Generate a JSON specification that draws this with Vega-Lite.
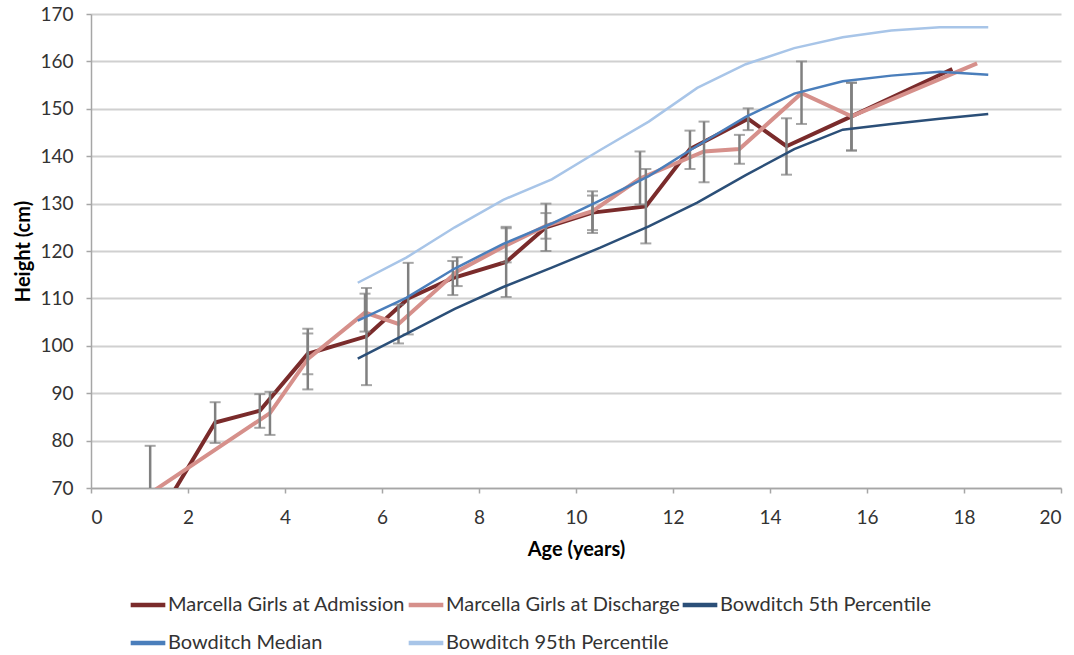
{
  "$schema": "https://vega.github.io/schema/vega-lite/v6.json",
  "width": 970,
  "height": 474,
  "autosize": {"type": "none"},
  "padding": {"left": 91, "top": 14, "right": 13, "bottom": 167},
  "background": "white",
  "config": {
    "view": {"stroke": null},
    "font": "Lato",
    "axis": {
      "labelFont": "Lato",
      "labelFontSize": 19,
      "labelColor": "#333333",
      "titleFont": "Lato",
      "titleFontSize": 20,
      "titleFontWeight": "bold",
      "titleColor": "#000000",
      "domainColor": "#a6a6a6",
      "domainWidth": 1.5,
      "tickColor": "#a6a6a6",
      "tickWidth": 1.5,
      "tickSize": 5
    },
    "axisX": {"grid": false, "labelPadding": 15, "titlePadding": 12},
    "axisY": {"grid": true, "gridColor": "#d0d0d0", "gridWidth": 2, "labelPadding": 13, "titlePadding": 6}
  },
  "data": {
    "values": [
      {"series": "Marcella Girls at Admission", "age": 1.22, "height": 61.0},
      {"series": "Marcella Girls at Admission", "age": 2.56, "height": 83.8, "lo": 79.5, "hi": 88.1},
      {"series": "Marcella Girls at Admission", "age": 3.48, "height": 86.3, "lo": 82.7, "hi": 89.8},
      {"series": "Marcella Girls at Admission", "age": 4.47, "height": 98.3, "lo": 94.0, "hi": 102.6},
      {"series": "Marcella Girls at Admission", "age": 5.68, "height": 102.0, "lo": 91.7, "hi": 112.2},
      {"series": "Marcella Girls at Admission", "age": 6.54, "height": 110.0, "lo": 102.4, "hi": 117.5},
      {"series": "Marcella Girls at Admission", "age": 7.46, "height": 114.3, "lo": 110.7, "hi": 117.9},
      {"series": "Marcella Girls at Admission", "age": 8.56, "height": 117.7, "lo": 110.3, "hi": 125.1},
      {"series": "Marcella Girls at Admission", "age": 9.38, "height": 125.0, "lo": 120.0, "hi": 130.0},
      {"series": "Marcella Girls at Admission", "age": 10.34, "height": 128.1, "lo": 123.8, "hi": 132.6},
      {"series": "Marcella Girls at Admission", "age": 11.44, "height": 129.4, "lo": 121.6, "hi": 137.3},
      {"series": "Marcella Girls at Admission", "age": 12.35, "height": 141.5, "lo": 137.3, "hi": 145.4},
      {"series": "Marcella Girls at Admission", "age": 13.55, "height": 147.9, "lo": 145.5, "hi": 150.1},
      {"series": "Marcella Girls at Admission", "age": 14.34, "height": 142.1, "lo": 136.1, "hi": 148.0},
      {"series": "Marcella Girls at Admission", "age": 15.68, "height": 148.4, "lo": 141.2, "hi": 155.5},
      {"series": "Marcella Girls at Admission", "age": 17.76, "height": 158.4},
      {"series": "Marcella Girls at Discharge", "age": 1.22, "height": 68.9, "lo": 58.9, "hi": 78.9},
      {"series": "Marcella Girls at Discharge", "age": 3.69, "height": 85.8, "lo": 81.2, "hi": 90.3},
      {"series": "Marcella Girls at Discharge", "age": 4.47, "height": 97.2, "lo": 90.8, "hi": 103.6},
      {"series": "Marcella Girls at Discharge", "age": 5.65, "height": 107.0, "lo": 103.0, "hi": 111.0},
      {"series": "Marcella Girls at Discharge", "age": 6.34, "height": 104.6, "lo": 100.5, "hi": 108.7},
      {"series": "Marcella Girls at Discharge", "age": 7.55, "height": 115.7, "lo": 112.6, "hi": 118.7},
      {"series": "Marcella Girls at Discharge", "age": 8.56, "height": 121.2, "lo": 117.6, "hi": 124.8},
      {"series": "Marcella Girls at Discharge", "age": 9.38, "height": 125.3, "lo": 122.6, "hi": 128.0},
      {"series": "Marcella Girls at Discharge", "age": 10.34, "height": 128.4, "lo": 124.4, "hi": 131.7},
      {"series": "Marcella Girls at Discharge", "age": 11.32, "height": 135.3, "lo": 129.8, "hi": 141.0},
      {"series": "Marcella Girls at Discharge", "age": 12.64, "height": 141.0, "lo": 134.5, "hi": 147.3},
      {"series": "Marcella Girls at Discharge", "age": 13.37, "height": 141.5, "lo": 138.4, "hi": 144.5},
      {"series": "Marcella Girls at Discharge", "age": 14.65, "height": 153.3, "lo": 146.8, "hi": 160.0},
      {"series": "Marcella Girls at Discharge", "age": 15.68, "height": 148.4, "lo": 141.2, "hi": 155.5},
      {"series": "Marcella Girls at Discharge", "age": 18.27, "height": 159.6},
      {"series": "Bowditch 5th Percentile", "age": 5.5, "height": 97.3},
      {"series": "Bowditch 5th Percentile", "age": 6.5, "height": 102.5},
      {"series": "Bowditch 5th Percentile", "age": 7.5, "height": 107.8},
      {"series": "Bowditch 5th Percentile", "age": 8.5, "height": 112.4},
      {"series": "Bowditch 5th Percentile", "age": 9.5, "height": 116.5},
      {"series": "Bowditch 5th Percentile", "age": 10.5, "height": 120.7},
      {"series": "Bowditch 5th Percentile", "age": 11.5, "height": 125.2},
      {"series": "Bowditch 5th Percentile", "age": 12.5, "height": 130.2},
      {"series": "Bowditch 5th Percentile", "age": 13.5, "height": 136.0},
      {"series": "Bowditch 5th Percentile", "age": 14.5, "height": 141.5},
      {"series": "Bowditch 5th Percentile", "age": 15.5, "height": 145.6},
      {"series": "Bowditch 5th Percentile", "age": 16.5, "height": 146.8},
      {"series": "Bowditch 5th Percentile", "age": 17.5, "height": 147.9},
      {"series": "Bowditch 5th Percentile", "age": 18.5, "height": 148.9},
      {"series": "Bowditch Median", "age": 5.5, "height": 105.3},
      {"series": "Bowditch Median", "age": 6.5, "height": 110.1},
      {"series": "Bowditch Median", "age": 7.5, "height": 116.3},
      {"series": "Bowditch Median", "age": 8.5, "height": 121.5},
      {"series": "Bowditch Median", "age": 9.5, "height": 125.8},
      {"series": "Bowditch Median", "age": 10.5, "height": 130.7},
      {"series": "Bowditch Median", "age": 11.5, "height": 135.8},
      {"series": "Bowditch Median", "age": 12.5, "height": 142.2},
      {"series": "Bowditch Median", "age": 13.5, "height": 148.3},
      {"series": "Bowditch Median", "age": 14.5, "height": 153.2},
      {"series": "Bowditch Median", "age": 15.5, "height": 155.8},
      {"series": "Bowditch Median", "age": 16.5, "height": 157.0},
      {"series": "Bowditch Median", "age": 17.5, "height": 157.8},
      {"series": "Bowditch Median", "age": 18.5, "height": 157.2},
      {"series": "Bowditch 95th Percentile", "age": 5.5, "height": 113.3},
      {"series": "Bowditch 95th Percentile", "age": 6.5, "height": 118.6},
      {"series": "Bowditch 95th Percentile", "age": 7.5, "height": 125.0},
      {"series": "Bowditch 95th Percentile", "age": 8.5, "height": 130.8},
      {"series": "Bowditch 95th Percentile", "age": 9.5, "height": 135.1},
      {"series": "Bowditch 95th Percentile", "age": 10.5, "height": 141.3},
      {"series": "Bowditch 95th Percentile", "age": 11.5, "height": 147.3},
      {"series": "Bowditch 95th Percentile", "age": 12.5, "height": 154.4},
      {"series": "Bowditch 95th Percentile", "age": 13.5, "height": 159.4},
      {"series": "Bowditch 95th Percentile", "age": 14.5, "height": 162.8},
      {"series": "Bowditch 95th Percentile", "age": 15.5, "height": 165.1},
      {"series": "Bowditch 95th Percentile", "age": 16.5, "height": 166.5},
      {"series": "Bowditch 95th Percentile", "age": 17.5, "height": 167.2},
      {"series": "Bowditch 95th Percentile", "age": 18.5, "height": 167.2}
    ]
  },
  "layer": [
    {
      "transform": [{"filter": {"field": "series", "oneOf": ["Marcella Girls at Admission", "Marcella Girls at Discharge"]}}],
      "mark": {"type": "line", "strokeWidth": 4, "clip": true},
      "encoding": {
        "x": {"field": "age", "type": "quantitative", "title": "Age (years)", "scale": {"domain": [0, 20], "nice": false}, "axis": {"values": [0, 2, 4, 6, 8, 10, 12, 14, 16, 18, 20]}},
        "y": {"field": "height", "type": "quantitative", "title": "Height (cm)", "scale": {"domain": [70, 170], "nice": false, "zero": false}, "axis": {"values": [70, 80, 90, 100, 110, 120, 130, 140, 150, 160, 170]}},
        "color": {
          "field": "series", "type": "nominal",
          "scale": {
            "domain": ["Marcella Girls at Admission", "Marcella Girls at Discharge", "Bowditch 5th Percentile", "Bowditch Median", "Bowditch 95th Percentile"],
            "range": ["#7a2b2b", "#d6908b", "#2b4f78", "#4a7ebb", "#a8c5e8"]
          },
          "legend": {
            "orient": "none", "legendX": 37, "legendY": 571,
            "direction": "horizontal", "columns": 3, "title": null,
            "labelFont": "Lato", "labelFontSize": 20, "labelColor": "#333333", "labelLimit": 400,
            "symbolType": "stroke", "symbolStrokeWidth": 4.5, "symbolSize": 1200,
            "labelOffset": 0, "columnPadding": -9, "rowPadding": 8
          }
        },
        "order": {"field": "age", "type": "quantitative"}
      }
    },
    {
      "transform": [{"filter": "isValid(datum.lo)"}],
      "mark": {"type": "errorbar", "clip": true, "ticks": {"size": 11, "thickness": 2, "color": "#808080"}, "rule": {"strokeWidth": 2.5, "color": "#808080"}},
      "encoding": {
        "x": {"field": "age", "type": "quantitative", "title": "Age (years)"},
        "y": {"field": "lo", "type": "quantitative", "title": "Height (cm)"},
        "y2": {"field": "hi"}
      }
    },
    {
      "transform": [{"filter": {"field": "series", "oneOf": ["Bowditch 5th Percentile", "Bowditch Median", "Bowditch 95th Percentile"]}}],
      "mark": {"type": "line", "strokeWidth": 2.5, "clip": true},
      "encoding": {
        "x": {"field": "age", "type": "quantitative", "title": "Age (years)"},
        "y": {"field": "height", "type": "quantitative", "title": "Height (cm)"},
        "color": {"field": "series", "type": "nominal"},
        "order": {"field": "age", "type": "quantitative"}
      }
    }
  ]
}
